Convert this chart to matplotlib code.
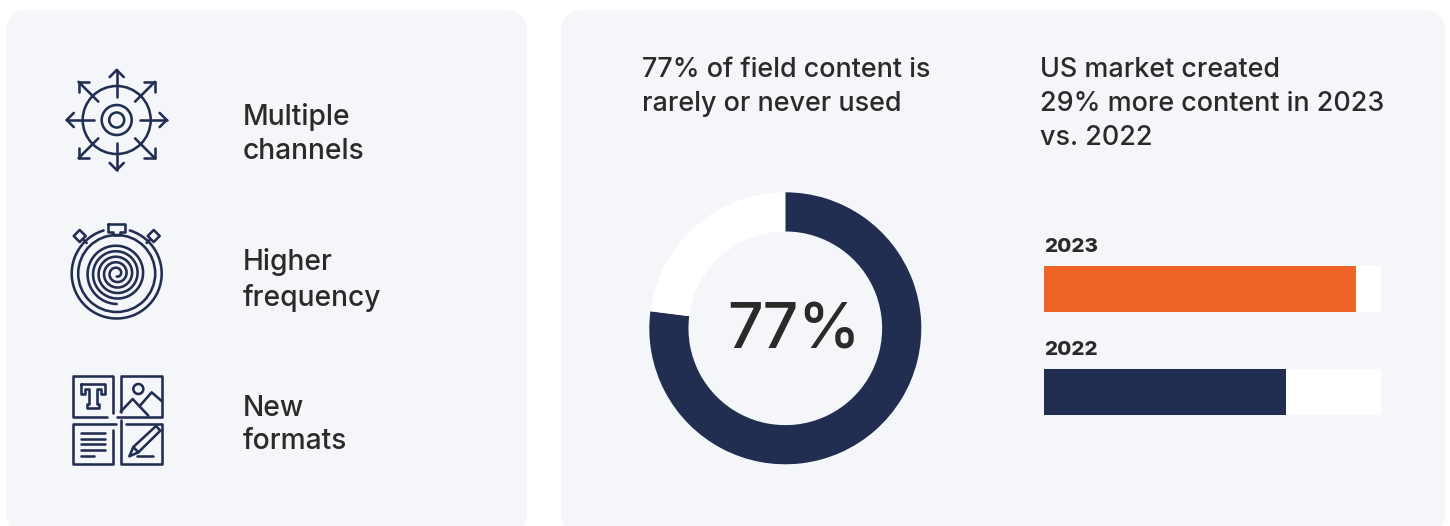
# Content production panels: drivers on the left, usage donut and year bars on the right

import numpy as np
import matplotlib
matplotlib.use('Agg')
import matplotlib.pyplot as plt
from matplotlib.patches import FancyBboxPatch, Circle, Polygon

# Data
usage_labels = ['Rarely or never used', 'Used']
usage_values = [77, 23]
years = ['2022', '2023']
year_values = [100, 129]
bar_scale_max = 139.3
driver_lines = ['Multiple\nchannels', 'Higher\nfrequency', 'New\nformats']
headline_left = '77% of field content is\nrarely or never used'
headline_right = 'US market created\n29% more content in 2023\nvs. 2022'

NAVY = '#212e52'
ORANGE = '#ef6528'
PANEL = '#f4f6fa'
INK = '#2b2a29'
FONT = 'Inter'
W, H = 1450, 526
LW = 1.85

plt.rcParams['font.family'] = FONT

fig = plt.figure(figsize=(W / 100, H / 100), dpi=100, facecolor='white')

# Background layer in pixel coordinates
bg = fig.add_axes([0, 0, 1, 1])
bg.set_xlim(0, W)
bg.set_ylim(H, 0)
bg.axis('off')


def panel(x0, y0, x1, y1, rad=22):
    bg.add_patch(FancyBboxPatch((x0 + rad, y0 + rad), x1 - x0 - 2 * rad, y1 - y0 - 2 * rad,
                                boxstyle=f'round,pad={rad},rounding_size={rad}',
                                fc=PANEL, ec='none'))


def axes_px(x0, y0, x1, y1):
    return fig.add_axes([x0 / W, 1 - y1 / H, (x1 - x0) / W, (y1 - y0) / H])


def stroke(xs, ys, lw=LW):
    bg.plot(xs, ys, color=NAVY, lw=lw, solid_capstyle='round', solid_joinstyle='round')


def ring(cx, cy, r, lw=LW):
    bg.add_patch(Circle((cx, cy), r, fc='none', ec=NAVY, lw=lw))


panel(6, 10, 527, 534)
panel(561, 10, 1445, 534)

# Channels icon: target with eight outgoing arrows
cx, cy = 116.7, 120
ring(cx, cy, 34)
ring(cx, cy, 15)
ring(cx, cy, 7.5)
for a in np.arange(0, 360, 45):
    ux, uy = np.cos(np.radians(a)), np.sin(np.radians(a))
    r0, r1 = (26, 54) if a % 90 else (23, 50)
    stroke([cx + r0 * ux, cx + r1 * ux], [cy + r0 * uy, cy + r1 * uy])
    tip_x, tip_y = cx + r1 * ux, cy + r1 * uy
    size = 10.5 if a % 90 else 10
    for side in (-135, 135):
        b = np.radians(a + side)
        stroke([tip_x, tip_x + size * np.cos(b)], [tip_y, tip_y + size * np.sin(b)])

# Frequency icon: stopwatch with a spiral dial
cx, cy = 116.7, 273.5
t = np.radians(np.linspace(-73, 253, 200))
stroke(cx + 45 * np.cos(t), cy + 45 * np.sin(t))
ring(cx, cy, 38.5)
t = np.linspace(0, 5 * 2 * np.pi, 800)
r = 30.5 - 5.5 * t / (2 * np.pi)
keep = r > 2
stroke(cx + r[keep] * np.cos(np.pi / 2 + t[keep]), cy + r[keep] * np.sin(np.pi / 2 + t[keep]))
crown_x = [-8.5, 8.5, 8.5, 3.5, 3.5, -3.5, -3.5, -8.5, -8.5]
crown_y = [-50, -50, -42, -42, -38.5, -38.5, -42, -42, -50]
stroke(cx + np.array(crown_x), cy + np.array(crown_y))
for sign in (-1, 1):
    dx, dy = cx + sign * 37, cy - 37.5
    bg.add_patch(Polygon([(dx, dy - 6), (dx + 6, dy), (dx, dy + 6), (dx - 6, dy)],
                         closed=True, fc='none', ec=NAVY, lw=LW, joinstyle='round'))
    stroke([dx - sign * 4, dx - sign * 7], [dy + 4, dy + 7])


# Formats icon, laid out on a 140 x 110 grid scaled by 3
def fx(v):
    return 50 + np.asarray(v, dtype=float) / 3


def fy(v):
    return 365 + np.asarray(v, dtype=float) / 3


def fstroke(xs, ys):
    stroke(fx(xs), fy(ys))


fstroke([190, 190, 68, 68, 172], [145, 33, 33, 155, 155])
fstroke([212, 212, 335, 335, 200], [140, 33, 33, 155, 155])
fstroke([198, 68, 68, 190, 190], [178, 178, 298, 298, 195])
fstroke([212, 212, 335, 335, 228], [165, 298, 298, 178, 178])
# Letter T
fstroke([92, 165, 165, 152, 152, 140, 140, 146, 146, 112, 112, 118, 118, 105, 105, 92, 92],
        [58, 58, 88, 88, 72, 72, 118, 118, 130, 130, 118, 118, 72, 72, 88, 88, 58])
# Picture: sun and mountains
bg.add_patch(Circle((fx(265), fy(72)), 5, fc='none', ec=NAVY, lw=LW))
fstroke([212, 248, 295], [140, 102, 152])
fstroke([270, 305, 335], [122, 82, 108])
# Text lines
for y in (203, 221, 238, 255):
    fstroke([92, 165], [y, y])
fstroke([92, 132], [272, 272])
# Pencil
fstroke([318, 331, 265, 238, 250, 318], [183, 197, 262, 274, 246, 183])
fstroke([250, 265], [246, 262])
fstroke([262, 310], [272, 272])

# Left column labels
for label, y in zip(driver_lines, [134, 280, 425]):
    bg.text(243, y, label, fontsize=20.3, fontweight='medium', color=INK, va='center',
            ha='left', linespacing=1.33)

# Headlines
bg.text(642, 87, headline_left, fontsize=19.4, fontweight='medium', color=INK, va='center',
        ha='left', linespacing=1.4)
bg.text(1040, 104, headline_right, fontsize=19.4, fontweight='medium', color=INK, va='center',
        ha='left', linespacing=1.4)

# Donut starting at twelve o'clock and running clockwise
ax_d = axes_px(785.3 - 136, 328.3 - 136, 785.3 + 136, 328.3 + 136)
ax_d.pie(usage_values, colors=[NAVY, 'white'], startangle=90, counterclock=False, radius=1,
         wedgeprops={'width': 0.288, 'linewidth': 0})
ax_d.set_xlim(-1, 1)
ax_d.set_ylim(-1, 1)
ax_d.text(0.06, -0.145, f'{usage_values[0]}%', fontsize=45, fontweight='medium', color=INK,
          ha='center', va='baseline')

# Year bars on a shared scale with a white track behind them
ax_b = axes_px(1044, 244, 1381, 415)
ax_b.set_xlim(0, bar_scale_max)
ax_b.set_ylim(0, 171)
ax_b.axis('off')
bar_y = [23, 126]
ax_b.barh(bar_y, [bar_scale_max] * 2, height=46, color='white', linewidth=0)
ax_b.barh(bar_y, year_values, height=46, color=[NAVY, ORANGE], linewidth=0)
for year, y in zip(years, bar_y):
    ax_b.text(0, y + 37, year, fontsize=14.8, fontweight=800, color=INK, va='baseline', ha='left')

fig.savefig('out.png', dpi=100, facecolor='white')
